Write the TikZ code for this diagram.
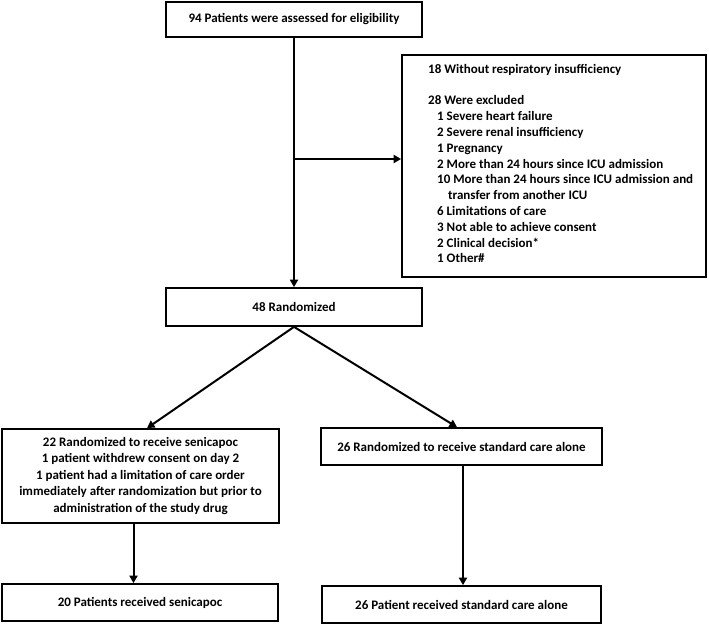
\documentclass[tikz,border=0pt]{standalone}
\usepackage{fontspec}
\setmainfont{Carlito}
\usetikzlibrary{arrows.meta}

\begin{document}
\begin{tikzpicture}
  [ x=1pt, y=-1pt,
    my box/.style={draw, line width=1.7pt, inner sep=0pt, align=center,
      font=\fontsize{13}{16.5}\selectfont\bfseries},
    my arrow/.style={line width=2pt,
      -{Triangle[length=7.5pt,width=8pt]}}, ]

  \useasboundingbox (0,0) rectangle (709,624);

  \node[my box, minimum width=256pt, minimum height=35pt] (assessed) at (294,19.5)
    {94 Patients were assessed for eligibility};

  \node[my box, minimum width=304pt, minimum height=222pt] (excluded) at (554,166) {};
  \node[anchor=north west, inner sep=0pt, align=left,
    font=\fontsize{13}{15.8}\selectfont\bfseries] (exclusions) at (428,64)
    {18 Without respiratory insufficiency\\[15.8pt]
     28 Were excluded\\
     \hspace*{9pt}1 Severe heart failure\\
     \hspace*{9pt}2 Severe renal insufficiency\\
     \hspace*{9pt}1 Pregnancy\\
     \hspace*{9pt}2 More than 24 hours since ICU admission\\
     \hspace*{9pt}10 More than 24 hours since ICU admission and\\
     \hspace*{20pt}transfer from another ICU\\
     \hspace*{9pt}6 Limitations of care\\
     \hspace*{9pt}3 Not able to achieve consent\\
     \hspace*{9pt}2 Clinical decision*\\
     \hspace*{9pt}1 Other\#};

  \node[my box, minimum width=256pt, minimum height=38pt] (randomized) at (294,307)
    {48 Randomized};

  \node[my box, minimum width=277pt, minimum height=94pt] (senicapoc) at (140.5,476)
    {22 Randomized to receive senicapoc\\
     1 patient withdrew consent on day 2\\
     1 patient had a limitation of care order\\
     immediately after randomization but prior to\\
     administration of the study drug};

  \node[my box, minimum width=281pt, minimum height=37pt] (standard) at (461.5,446.5)
    {26 Randomized to receive standard care alone};

  \node[my box, minimum width=276pt, minimum height=37pt] (received) at (140,602.5)
    {20 Patients received senicapoc};

  \node[my box, minimum width=279pt, minimum height=37pt] (receivedstd) at (461.5,604.5)
    {26 Patient received standard care alone};

  \coordinate (branch) at (assessed.south |- 0,159);

  \draw[my arrow] (assessed.south) to (randomized.north);
  \draw[my arrow] (branch) to (branch -| excluded.west);

  \draw[my arrow] (randomized.south) to ([xshift=6.5pt]senicapoc.north);
  \draw[my arrow] (randomized.south) to ([xshift=-4.5pt]standard.north);

  \draw[my arrow] ([xshift=-7pt]senicapoc.south) to ([xshift=-7pt]senicapoc.south |- received.north);
  \draw[my arrow] ([xshift=1.5pt]standard.south) to ([xshift=1.5pt]standard.south |- receivedstd.north);

\end{tikzpicture}
\end{document}
